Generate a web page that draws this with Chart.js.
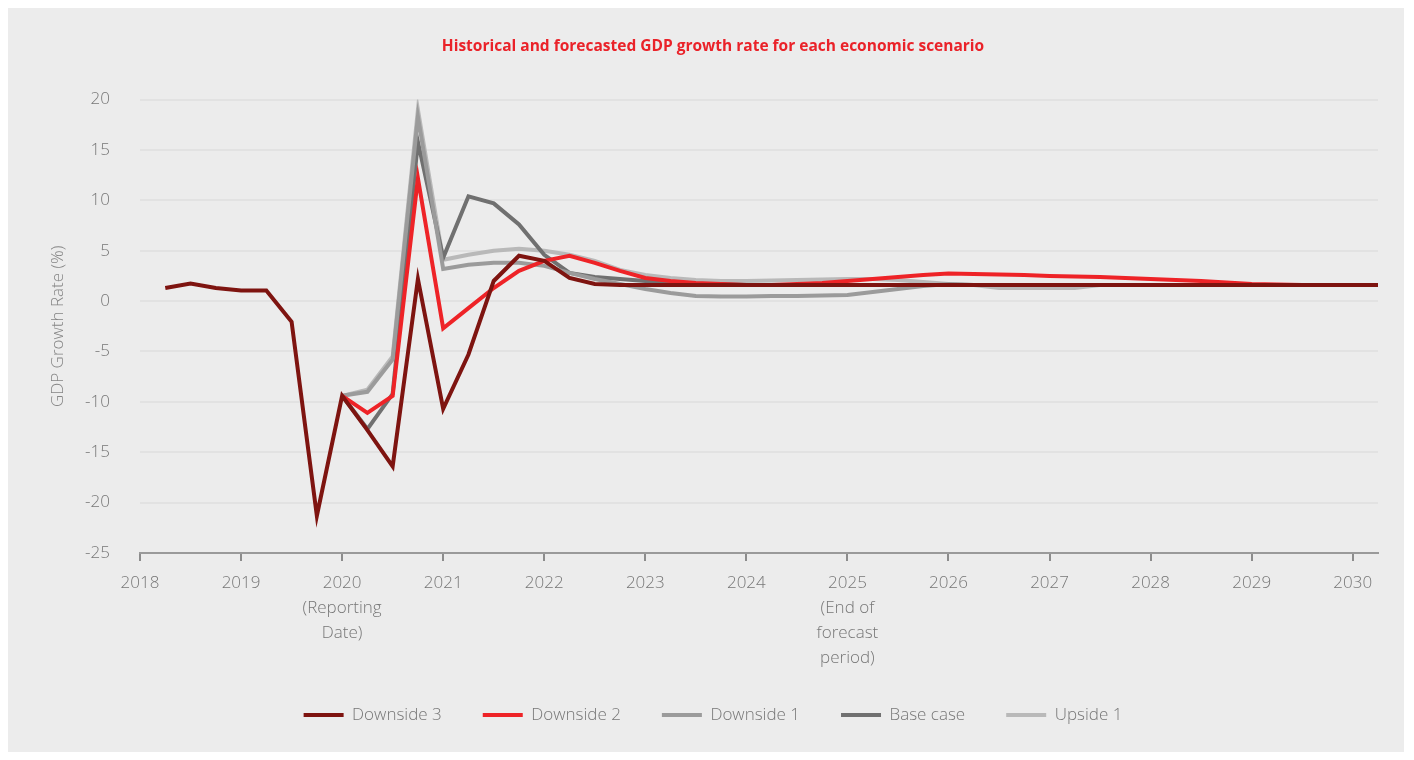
<!DOCTYPE html>
<html>
<head>
<meta charset="utf-8">
<script src="https://cdn.jsdelivr.net/npm/chart.js@4"></script>
<style>
    html, body { margin: 0; padding: 0; background: #ffffff; }
    #wrap { position: absolute; left: 8px; top: 8px; width: 1396px; height: 744px; background: #ececec; }
</style>
</head>
<body>
<div id="wrap"><canvas id="gdpChart"></canvas></div>
<script>
// quarter positions on the time axis (2018 Q2 .. 2030 Q2)
const quarters = [
    2018.25, 2018.5, 2018.75, 2019, 2019.25, 2019.5, 2019.75,
    2020, 2020.25, 2020.5, 2020.75, 2021, 2021.25, 2021.5, 2021.75,
    2022, 2022.25, 2022.5, 2022.75, 2023, 2023.25, 2023.5, 2023.75,
    2024, 2024.25, 2024.5, 2024.75, 2025, 2025.25, 2025.5, 2025.75,
    2026, 2026.25, 2026.5, 2026.75, 2027, 2027.25, 2027.5, 2027.75,
    2028, 2028.25, 2028.5, 2028.75, 2029, 2029.25, 2029.5, 2029.75,
    2030, 2030.25
];

// Downside 3 carries the history too
const downside3 = [
    1.3, 1.75, 1.3, 1.05, 1.05, -2.05, -21.3,
    -9.4, -12.8, -16.4, 2.2, -10.7, -5.3, 2.0, 4.5,
    4.0, 2.3, 1.7, 1.6, 1.6, 1.6, 1.6, 1.6,
    1.6, 1.6, 1.6, 1.6, 1.6, 1.6, 1.6, 1.6,
    1.6, 1.6, 1.6, 1.6, 1.6, 1.6, 1.6, 1.6,
    1.6, 1.6, 1.6, 1.6, 1.6, 1.6, 1.6, 1.6,
    1.6, 1.6
];

// the other scenarios start at 2020 (reporting date)
const downside2 = [
    -9.4, -11.1, -9.4, 12.2, -2.7, -0.7, 1.3, 3.0,
    4.0, 4.5, 3.8, 3.0, 2.3, 2.0, 1.8, 1.7,
    1.6, 1.6, 1.7, 1.8, 2.0, 2.2, 2.4, 2.6,
    2.75, 2.7, 2.65, 2.6, 2.5, 2.45, 2.4, 2.3,
    2.2, 2.1, 2.0, 1.85, 1.7, 1.65, 1.6, 1.6,
    1.6, 1.6
];
const downside1 = [
    -9.4, -9.0, -5.8, 18.3, 3.2, 3.6, 3.8, 3.8,
    3.5, 2.8, 2.2, 1.7, 1.2, 0.8, 0.5, 0.45,
    0.45, 0.5, 0.5, 0.55, 0.6, 0.9, 1.2, 1.5,
    1.7, 1.6, 1.6, 1.6, 1.6, 1.6, 1.6, 1.6,
    1.6, 1.6, 1.6, 1.6, 1.6, 1.6, 1.6, 1.6,
    1.6, 1.6
];
const baseCase = [
    -9.4, -12.7, -9.2, 15.8, 4.3, 10.4, 9.7, 7.6,
    4.6, 2.8, 2.4, 2.2, 2.0, 1.8, 1.7, 1.7,
    1.6, 1.6, 1.6, 1.6, 1.6, 1.6, 1.6, 1.6,
    1.6, 1.6, 1.6, 1.6, 1.6, 1.6, 1.6, 1.6,
    1.6, 1.6, 1.6, 1.6, 1.6, 1.6, 1.6, 1.6,
    1.6, 1.6
];
const upside1 = [
    -9.4, -8.8, -5.5, 19.0, 4.1, 4.6, 5.0, 5.2,
    5.0, 4.6, 4.0, 3.1, 2.6, 2.3, 2.1, 2.0,
    2.0, 2.05, 2.1, 2.15, 2.2, 2.2, 2.1, 1.9,
    1.7, 1.6, 1.3, 1.3, 1.3, 1.3, 1.6, 1.6,
    1.6, 1.6, 1.6, 1.6, 1.6, 1.6, 1.6, 1.6,
    1.6, 1.6
];

const yTicks = [-25, -20, -15, -10, -5, 0, 5, 10, 15, 20];
const yearLabels = {
    2020: ['2020', '(Reporting', 'Date)'],
    2025: ['2025', '(End of', 'forecast', 'period)']
};

const seriesNames = ['Downside 3', 'Downside 2', 'Downside 1', 'Base case', 'Upside 1'];
const seriesValues = [downside3, downside2, downside1, baseCase, upside1];
const seriesColors = ['#7e1410', '#ee2327', '#9b9b9b', '#707070', '#b9b9b9'];

function toPoints(values) {
    const offset = quarters.length - values.length;
    return values.map((v, i) => ({ x: quarters[i + offset], y: v }));
}

const labelFont = { family: "'Open Sans', sans-serif", size: 17, weight: 300 };

new Chart(document.getElementById('gdpChart').getContext('2d'), {
    type: 'line',
    data: {
        datasets: seriesNames.map((name, i) => ({
            label: name,
            data: toPoints(seriesValues[i]),
            borderColor: seriesColors[i],
            backgroundColor: seriesColors[i],
            borderWidth: 4,
            pointRadius: 0,
            tension: 0,
            fill: false
        }))
    },
    options: {
        responsive: true,
        maintainAspectRatio: false,
        animation: false,
        layout: { padding: { left: 40, right: 26, top: 0, bottom: 18.5 } },
        plugins: {
            title: {
                display: true,
                text: 'Historical and forecasted GDP growth rate for each economic scenario',
                color: '#ea2229',
                font: { family: "'Open Sans', sans-serif", size: 15.5, weight: 'bold' },
                padding: { top: 29, bottom: 44 }
            },
            legend: {
                position: 'bottom',
                labels: {
                    boxWidth: 40,
                    boxHeight: 4,
                    padding: 41,
                    color: '#777777',
                    font: labelFont,
                    generateLabels: chart => Chart.defaults.plugins.legend.labels.generateLabels(chart)
                        .map(l => ({ ...l, lineWidth: 0 }))
                }
            },
            tooltip: { enabled: false }
        },
        scales: {
            x: {
                type: 'linear',
                min: 2018,
                max: 2030.25,
                afterFit: scale => {
                    scale.height = 112.5;
                    // let the 4-line label run below the axis box
                    scale._computeLabelArea = () => undefined;
                },
                grid: {
                    drawOnChartArea: false,
                    drawTicks: true,
                    tickLength: 8,
                    color: '#8c8c8c',
                    lineWidth: 2
                },
                border: { display: true, color: '#9a9a9a', width: 2 },
                ticks: {
                    stepSize: 1,
                    includeBounds: false,
                    autoSkip: false,
                    maxRotation: 0,
                    padding: 10,
                    color: '#777777',
                    font: { ...labelFont, lineHeight: 1.47 },
                    callback: value => yearLabels[value] || String(value)
                }
            },
            y: {
                min: yTicks[0],
                max: yTicks[yTicks.length - 1],
                afterBuildTicks: scale => { scale.ticks = yTicks.map(v => ({ value: v })); },
                afterFit: scale => { scale.width = 92; },
                grid: { color: '#e2e2e2', lineWidth: 2, drawTicks: false },
                border: { display: false },
                ticks: { padding: 30, color: '#777777', font: labelFont },
                title: {
                    display: true,
                    text: 'GDP Growth Rate (%)',
                    color: '#858585',
                    font: labelFont,
                    padding: { top: 0, bottom: 0 }
                }
            }
        }
    }
});
</script>
</body>
</html>
